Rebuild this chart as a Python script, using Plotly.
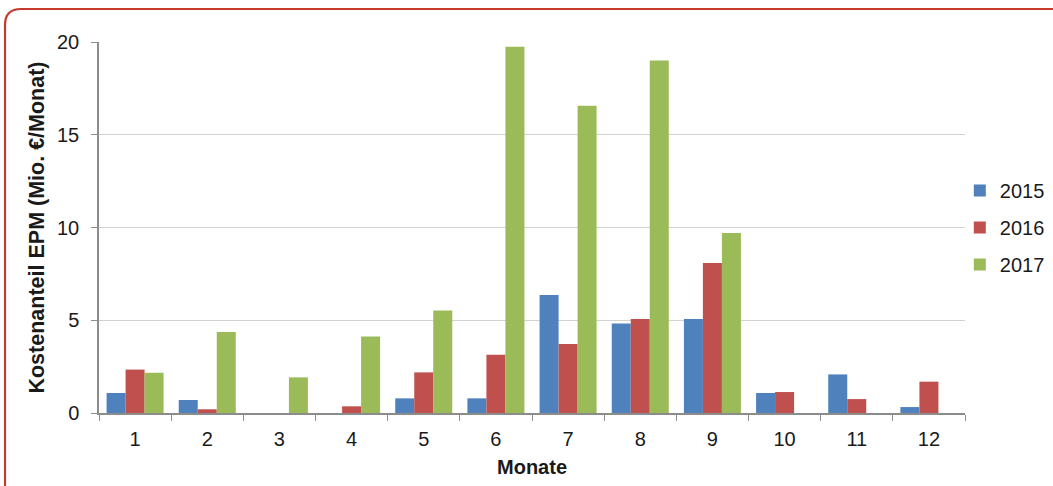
import plotly.graph_objects as go

# Monthly EPM cost share, million EUR per month
months = ["1", "2", "3", "4", "5", "6", "7", "8", "9", "10", "11", "12"]
cost_2015 = [1.08, 0.70, 0, 0, 0.79, 0.79, 6.36, 4.83, 5.07, 1.08, 2.08, 0.32]
cost_2016 = [2.34, 0.20, 0, 0.36, 2.19, 3.14, 3.72, 5.07, 8.09, 1.13, 0.75, 1.69]
cost_2017 = [2.17, 4.37, 1.92, 4.13, 5.53, 19.74, 16.56, 19.00, 9.71, None, None, None]
years = ["2015", "2016", "2017"]
colors = ["#4F81BD", "#C0504D", "#9BBB59"]

W, H = 1053, 486
ML, MR, MT, MB = 99, 88, 42, 73
PW, PH = W - ML - MR, H - MT - MB

fig = go.Figure()
for name, vals, col in zip(years, [cost_2015, cost_2016, cost_2017], colors):
    fig.add_trace(go.Bar(
        x=months, y=vals, name=name, marker_color=col,
        marker_line_width=0, legendgroup=name,
    ))


def P(px, py):
    # pixel position on the page -> paper coordinates
    return f"{(px - ML) / PW:.5f},{(H - MB - py) / PH:.5f}"


# rounded red frame around the chart (open to the right and bottom)
x0, y0, x1, y1, r = 5, 9, 1080, 520, 16
path = (
    f"M {P(x0, y1)} L {P(x0, y0 + r)} Q {P(x0, y0)} {P(x0 + r, y0)} "
    f"L {P(x1, y0)}"
)
fig.add_shape(type="path", path=path, xref="paper", yref="paper",
              line=dict(color="#C43A2C", width=2.2), layer="above")

font = "Liberation Sans, Arial, sans-serif"
fig.update_layout(
    width=W, height=H,
    margin=dict(l=ML, r=MR, t=MT, b=MB, autoexpand=False),
    paper_bgcolor="white", plot_bgcolor="white",
    barmode="group", bargap=0.21, bargroupgap=0,
    font=dict(family=font, size=20, color="#1A1A1A"),
    showlegend=True,
    legend=dict(
        x=0.994, y=0.5, xanchor="left", yanchor="middle",
        font=dict(size=20, color="#1A1A1A"),
        traceorder="grouped", tracegroupgap=8,
        itemwidth=30, bgcolor="rgba(0,0,0,0)",
    ),
    xaxis=dict(
        type="category",
        showline=True, linecolor="#8C8C8C", linewidth=1.5,
        ticks="outside", tickson="boundaries", ticklen=6, tickcolor="#8C8C8C",
        ticklabelstandoff=7,
        showgrid=False,
        title=dict(text="<b>Monate</b>", font=dict(size=20), standoff=11),
        tickfont=dict(size=20),
    ),
    yaxis=dict(
        range=[0, 20], dtick=5,
        showline=True, linecolor="#8C8C8C", linewidth=1.5,
        ticks="outside", ticklen=6, tickcolor="#8C8C8C",
        ticklabelstandoff=8,
        showgrid=True, gridcolor="#D2D2D2", gridwidth=1,
        zeroline=False,
        title=dict(text="<b>Kostenanteil EPM (Mio. €/Monat)</b>",
                   font=dict(size=21.5), standoff=6),
        tickfont=dict(size=20),
    ),
)

fig.write_html("out.html")
